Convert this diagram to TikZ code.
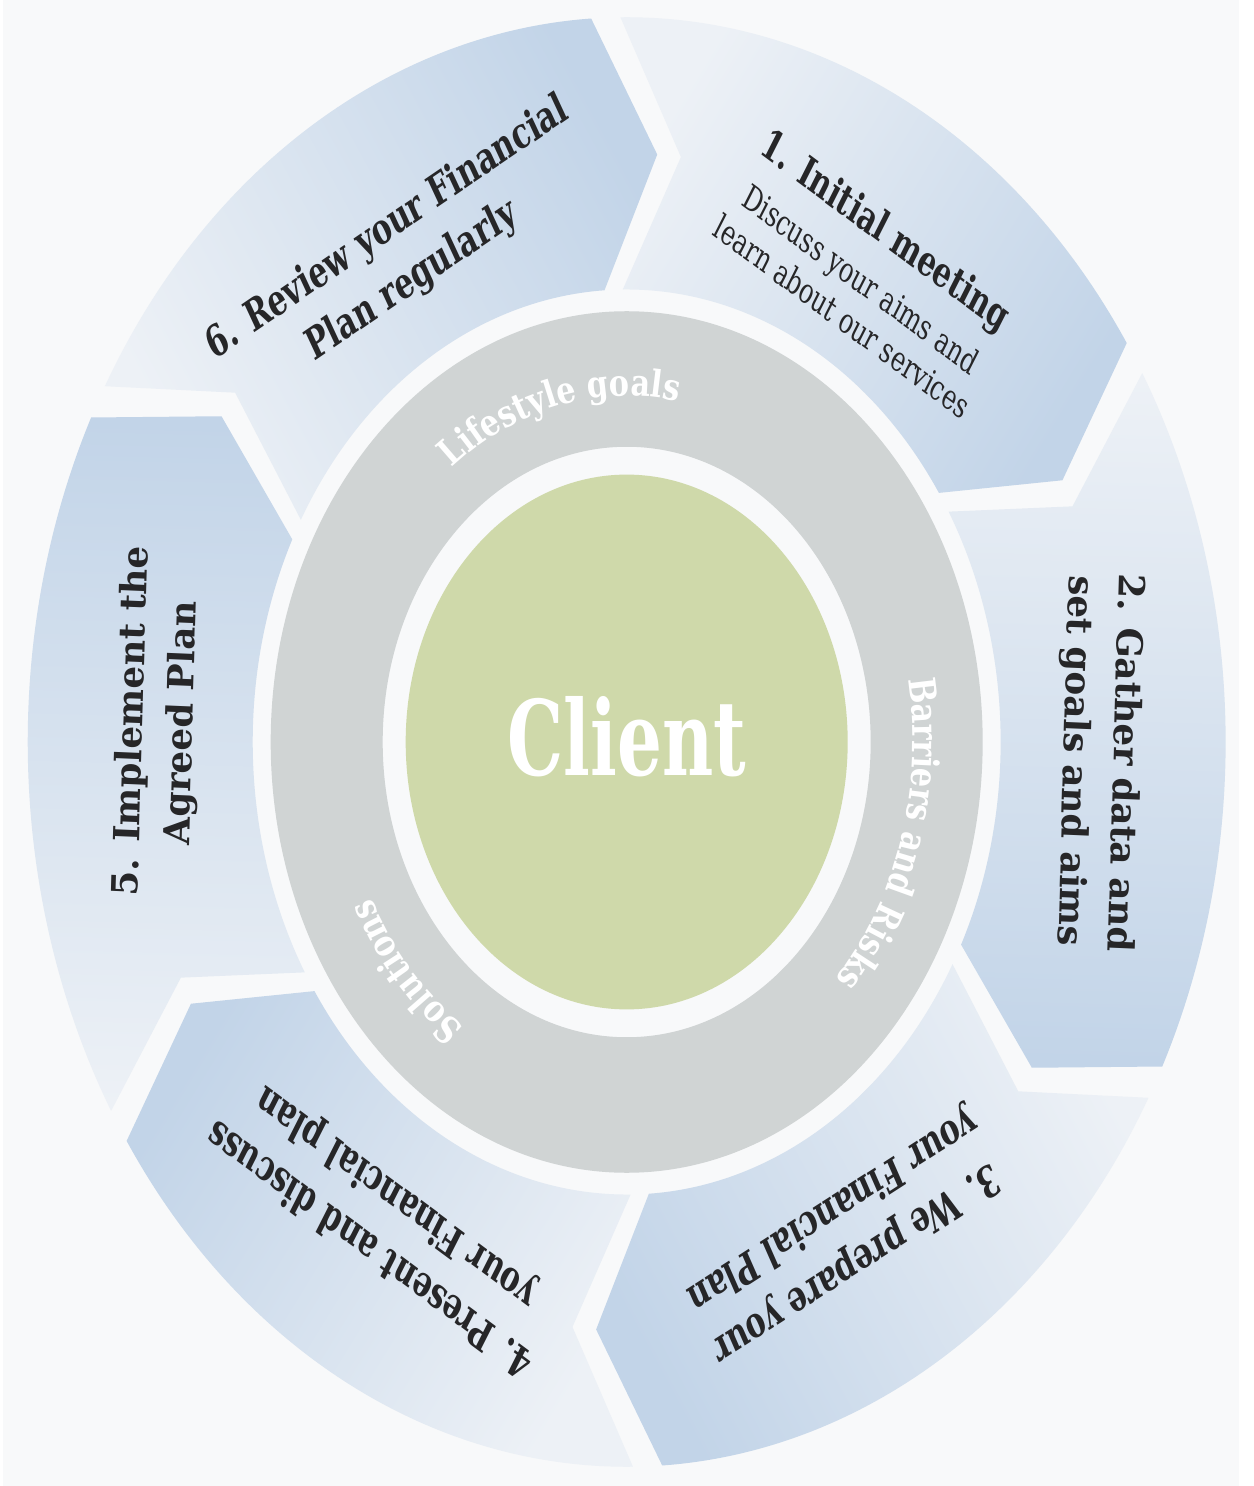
\documentclass[tikz,border=0pt]{standalone}
\usepackage{fontspec}
\setmainfont[FakeStretch=0.82]{DejaVu Serif}
\usetikzlibrary{decorations.text}

\definecolor{pagebg}{RGB}{248,249,250}
\definecolor{steplight}{RGB}{237,241,246}
\definecolor{stepblue}{RGB}{194,212,232}
\definecolor{ringgray}{RGB}{208,212,212}
\definecolor{clientgreen}{RGB}{207,217,170}
\definecolor{steptext}{RGB}{38,38,40}

\newcommand{\ringfont}{\bfseries\fontsize{37}{40}\selectfont}
\newcommand{\notefont}{\mdseries\fontsize{29}{36}\selectfont}

\tikzset{
  steplabel/.style={text=steptext, align=center, transform shape, inner sep=0pt,
    font=\bfseries\fontsize{36}{50}\selectfont},
  ringlabel/.style={decorate, decoration={text along path, text align=center, text color=white}},
}

\begin{document}
\begin{tikzpicture}[x=1pt,y=1pt]
\fill[pagebg] (-624,-744) rectangle (612,742);
\begin{scope}[yscale=1.21]
%arrows
\def\segout{599}
\def\segin{374}
\def\segmid{486.5}
\def\tipd{3.5}
\def\gaph{1.4}
\foreach \bb in {88.5,28.5,-31.5,-91.5,-151.5,148.5}{
  \pgfmathsetmacro{\ba}{\bb+\tipd-\gaph}
  \pgfmathsetmacro{\bn}{\bb-\tipd-\gaph}
  \pgfmathsetmacro{\bfr}{\bb-60+\tipd+\gaph}
  \pgfmathsetmacro{\bt}{\bb-60-\tipd+\gaph}
  \pgfmathsetmacro{\bc}{\bb-30}
  \shade[top color=steplight, bottom color=stepblue, shading angle=\bc]
    (\ba:\segout) arc[start angle=\ba, end angle=\bfr, radius=\segout]
    -- (\bt:\segmid) -- (\bfr:\segin)
    arc[start angle=\bfr, end angle=\ba, radius=\segin]
    -- (\bn:\segmid) -- cycle;
}
%rings
\fill[ringgray, even odd rule] (0,0) circle[radius=356] (0,0) circle[radius=244];
\fill[clientgreen] (0,0) circle[radius=221];
\node[text=white, transform shape, font=\bfseries\fontsize{86}{90}\selectfont] (client) at (0,4) {Client};
\path[ringlabel, decoration={text={|\ringfont|Lifestyle goals}}] (143:286) arc[start angle=143, end angle=63, radius=286];
\path[ringlabel, decoration={text={|\ringfont|Barriers and Risks}}] (23:286) arc[start angle=23, end angle=-57, radius=286];
\path[ringlabel, decoration={text={|\ringfont|Solutions}}] (-97:286) arc[start angle=-97, end angle=-177, radius=286];
%Text
\node[steplabel, rotate=-31.5, font=\bfseries\fontsize{35}{36}\selectfont] (s1) at (58.5:456) {1. Initial meeting\\[10pt] \notefont Discuss your aims and\\ \notefont learn about our services};
\node[steplabel, rotate=-92] (s2) at (-2:472) {2. Gather data and\\set goals and aims};
\node[steplabel, rotate=-152] (s3) at (-62:462) {3. We prepare your\\your Financial Plan};
\node[steplabel, rotate=148.5] (s4) at (-121.5:465) {4. Present and discuss\\your Financial plan};
\node[steplabel, rotate=88] (s5) at (178:469) {5. Implement the\\Agreed Plan};
\node[steplabel, rotate=29.4] (s6) at (119.4:462) {6. Review your Financial\\Plan regularly};
\end{scope}
\end{tikzpicture}
\end{document}
